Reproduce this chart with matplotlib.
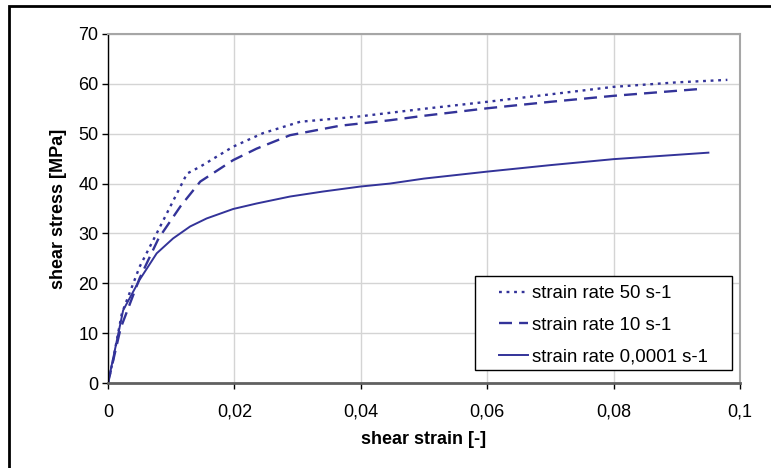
import matplotlib

matplotlib.use("Agg")
import matplotlib.pyplot as plt
from matplotlib.patches import Rectangle
from matplotlib.ticker import FuncFormatter

plt.rcParams["font.family"] = ["Liberation Sans", "DejaVu Sans"]

# strain rate 50 s-1 (dotted)
strain_50 = [0.0, 0.0008, 0.0022, 0.005, 0.0077, 0.0125, 0.0146, 0.0198, 0.0245,
             0.0304, 0.0393, 0.05, 0.06, 0.07, 0.08, 0.09, 0.098]
stress_50 = [0.0, 4.6, 14.0, 23.3, 30.0, 42.0, 43.4, 47.4, 50.1,
             52.4, 53.4, 55.0, 56.4, 57.9, 59.4, 60.3, 60.8]

# strain rate 10 s-1 (dashed)
strain_10 = [0.0, 0.002, 0.005, 0.008, 0.0115, 0.0146, 0.0198, 0.0235, 0.0288,
             0.0367, 0.0446, 0.05, 0.06, 0.07, 0.08, 0.0939]
stress_10 = [0.0, 11.0, 21.0, 29.0, 35.5, 40.4, 44.7, 47.0, 49.7,
             51.6, 52.7, 53.6, 55.1, 56.4, 57.6, 59.0]

# strain rate 0,0001 s-1 (solid)
strain_slow = [0.0, 0.0024, 0.005, 0.0077, 0.0103, 0.013, 0.0156, 0.0198, 0.0235,
               0.0288, 0.034, 0.0399, 0.0446, 0.05, 0.06, 0.07, 0.08, 0.095]
stress_slow = [0.0, 14.6, 20.7, 26.0, 29.0, 31.4, 33.0, 34.9, 36.0,
               37.4, 38.4, 39.4, 40.0, 41.0, 42.4, 43.7, 44.9, 46.2]

x_ticks = [0, 0.02, 0.04, 0.06, 0.08, 0.1]
y_ticks = [0, 10, 20, 30, 40, 50, 60, 70]

W, H = 771, 468
FS = 13
fig = plt.figure(figsize=(W / 100, H / 100), dpi=100)
ax = fig.add_axes([108 / W, 1 - 383 / H, (740 - 108) / W, (383 - 34) / H])

color = "#333399"
ax.plot(strain_50, stress_50, color=color, lw=1.7, linestyle=(0, (1.2, 2.0)),
        label="strain rate 50 s-1")
ax.plot(strain_10, stress_10, color=color, lw=1.7, linestyle=(0, (5.5, 3)),
        label="strain rate 10 s-1")
ax.plot(strain_slow, stress_slow, color=color, lw=1.4, label="strain rate 0,0001 s-1")

ax.set_xlim(0, 0.1)
ax.set_ylim(0, 70)
ax.set_xticks(x_ticks)
ax.set_yticks(y_ticks)
ax.xaxis.set_major_formatter(FuncFormatter(lambda v, p: f"{v:g}".replace(".", ",")))
ax.grid(True, color="#d4d4d4", lw=1.0)
ax.set_axisbelow(True)
ax.tick_params(direction="out", length=4, width=1, labelsize=FS, color="black")
ax.tick_params(axis="x", pad=11)
ax.tick_params(axis="y", pad=3)

ax.spines["top"].set_color("#a6a6a6")
ax.spines["right"].set_color("#a6a6a6")
ax.spines["top"].set_linewidth(1.5)
ax.spines["right"].set_linewidth(1.5)
ax.spines["left"].set_color("black")
ax.spines["left"].set_linewidth(1.0)
ax.spines["bottom"].set_color("#606060")
ax.spines["bottom"].set_linewidth(2.0)

ax.set_xlabel("shear strain [-]", fontsize=FS, fontweight="bold", labelpad=7)
ax.set_ylabel("shear stress [MPa]", fontsize=FS, fontweight="bold", labelpad=8)

# legend text/handles without frame; the box is drawn separately to match Excel
leg = ax.legend(loc="upper left", bbox_to_anchor=(499 / W, 1 - 285 / H),
                bbox_transform=fig.transFigure, fontsize=13.4, frameon=False,
                handlelength=1.55, handletextpad=0.25, labelspacing=0.8,
                borderpad=0, borderaxespad=0)
leg.set_zorder(6)
box = Rectangle((475 / W, 1 - 370 / H), (732 - 475) / W, (370 - 276) / H,
                transform=fig.transFigure, facecolor="white", edgecolor="black",
                lw=1.0, zorder=5, clip_on=False)
ax.add_patch(box)

fig.patches.append(Rectangle((9 / W, -0.1), 1.2, 1 - 6 / H + 0.1,
                             transform=fig.transFigure, fill=False,
                             edgecolor="black", lw=2))

fig.savefig("out.png", dpi=100)
